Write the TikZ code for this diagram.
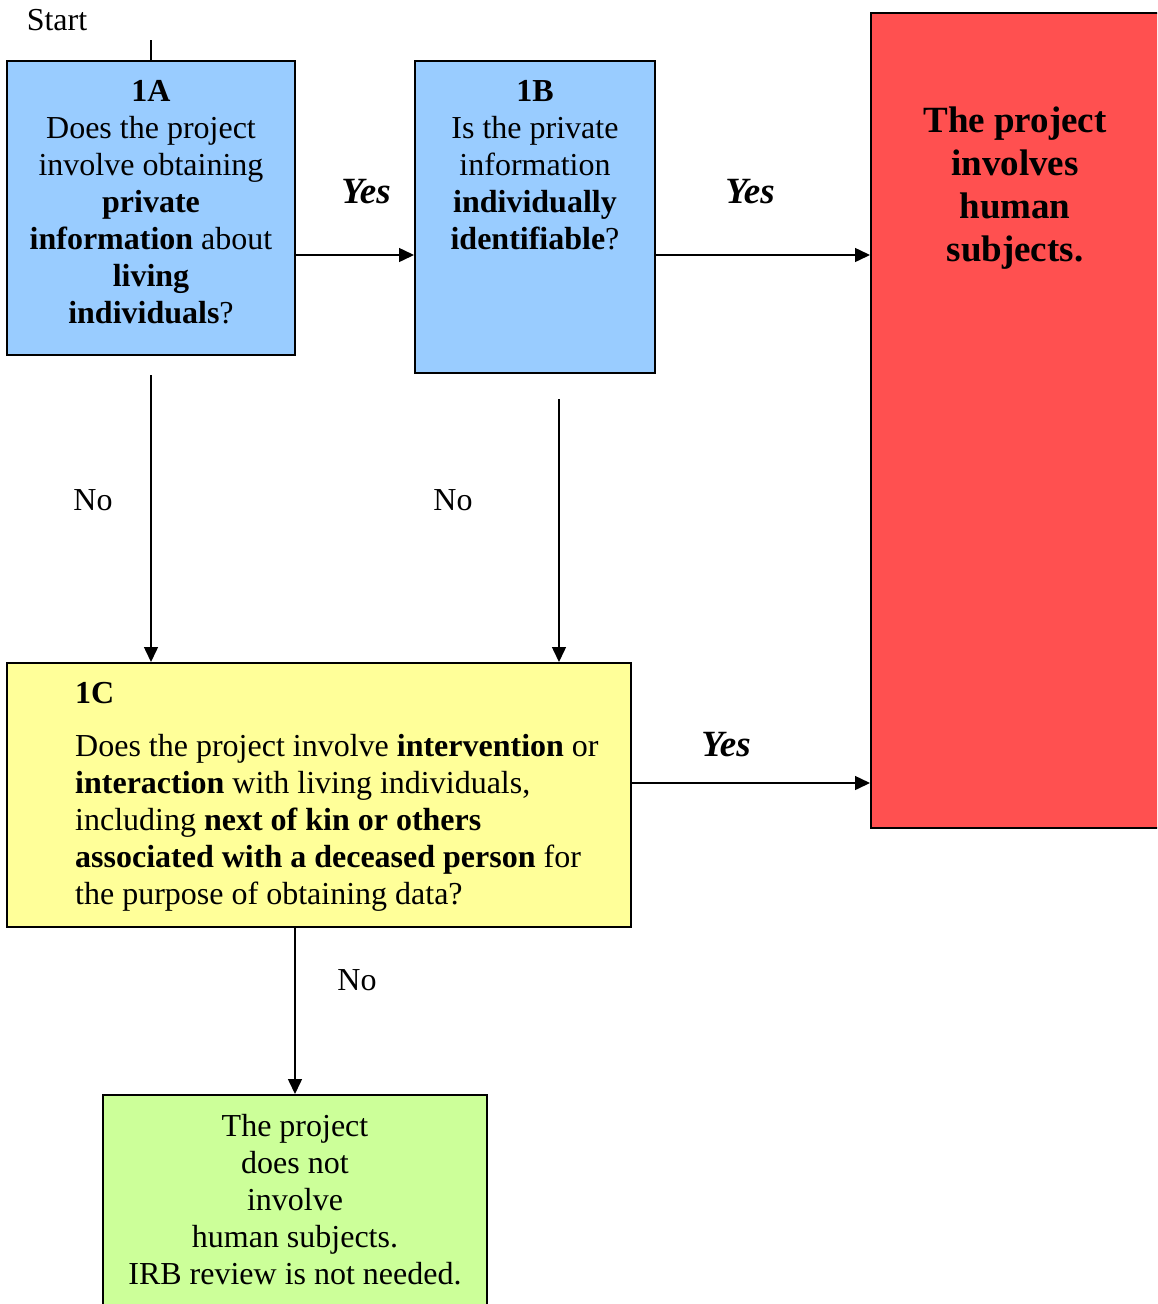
\documentclass[tikz,border=0pt]{standalone}
\usepackage{fontspec}
\setmainfont{Liberation Serif}
\usetikzlibrary{arrows.meta}
\definecolor{qblue}{HTML}{99CCFF}
\definecolor{qred}{HTML}{FF5050}
\definecolor{qyellow}{HTML}{FFFF99}
\definecolor{qgreen}{HTML}{CCFF99}
\begin{document}
\begin{tikzpicture}[x=1pt,y=-1pt,
  box/.style={draw=black, line width=2pt, rectangle, inner sep=0pt},
  txt/.style={inner sep=0pt, font=\fontsize{32}{37}\selectfont},
  bigtxt/.style={inner sep=0pt, font=\fontsize{37}{43}\selectfont\bfseries},
  yeslbl/.style={inner sep=0pt, font=\fontsize{37}{42}\selectfont\bfseries\itshape},
  nolbl/.style={inner sep=0pt, font=\fontsize{32}{37}\selectfont},
  arr/.style={line width=1.5pt, -{Triangle[length=15pt,width=14pt]}},
  ln/.style={line width=1.5pt}]
\clip (0,0) rectangle (1157,1304);
\fill[white] (0,0) rectangle (1157,1304);

% boxes
\node[box, fill=qblue, minimum width=288pt, minimum height=294pt] (a) at (151,208) {};
\node[box, fill=qblue, minimum width=240pt, minimum height=312pt] (b) at (535,217) {};
\node[box, fill=qred, minimum width=292pt, minimum height=815pt] (r) at (1017,420.5) {};
\node[box, fill=qyellow, minimum width=624pt, minimum height=264pt] (c) at (319,795) {};
\node[box, fill=qgreen, minimum width=384pt, minimum height=220pt] (g) at (295,1205) {};

% box texts
\node[txt, anchor=north, align=center] (ta) at (151,80)
  {\textbf{1A}\\Does the project\\involve obtaining\\\textbf{private}\\\textbf{information} about\\\textbf{living}\\\textbf{individuals}?};
\node[txt, anchor=north, align=center] (tb) at (535,80)
  {\textbf{1B}\\Is the private\\information\\\textbf{individually}\\\textbf{identifiable}?};
\node[bigtxt, anchor=north, align=center] (tr) at (1015,107)
  {The project\\involves\\human\\subjects.};
\node[txt, anchor=north west, font=\fontsize{32}{37}\selectfont\bfseries] (tc1) at (75,682) {1C};
\node[txt, anchor=north west, align=left] (tc) at (75,734)
  {Does the project involve \textbf{intervention} or\\\textbf{interaction} with living individuals,\\including \textbf{next of kin or others}\\\textbf{associated with a deceased person} for\\the purpose of obtaining data?};
\node[txt, anchor=north, align=center] (tg) at (295,1114)
  {The project\\does not\\involve\\human subjects.\\IRB review is not needed.};

% start marker
\node[txt] (start) at (57,20) {Start};
\coordinate (s0) at (151,40);
\draw[ln] (s0) -- (a.north);

% row coordinates for the horizontal connectors
\coordinate (rowA) at (0,255);
\coordinate (rowC) at (0,783);
\draw[arr] (a.east |- rowA) -- (b.west |- rowA);
\draw[arr] (b.east |- rowA) -- (r.west |- rowA);
\draw[arr] (c.east |- rowC) -- (r.west |- rowC);

% vertical connectors
\coordinate (a0) at (151,375);
\coordinate (b0) at (559,399);
\draw[arr] (a0) -- (c.north -| a0);
\draw[arr] (b0) -- (c.north -| b0);
\draw[arr] (g.north |- c.south) -- (g.north);

% branch labels
\node[yeslbl] (y1) at (366,192) {Yes};
\node[yeslbl] (y2) at (750,192) {Yes};
\node[yeslbl] (y3) at (726,745) {Yes};
\node[nolbl] (n1) at (93,500) {No};
\node[nolbl] (n2) at (453,500) {No};
\node[nolbl] (n3) at (357,980) {No};
\end{tikzpicture}
\end{document}
